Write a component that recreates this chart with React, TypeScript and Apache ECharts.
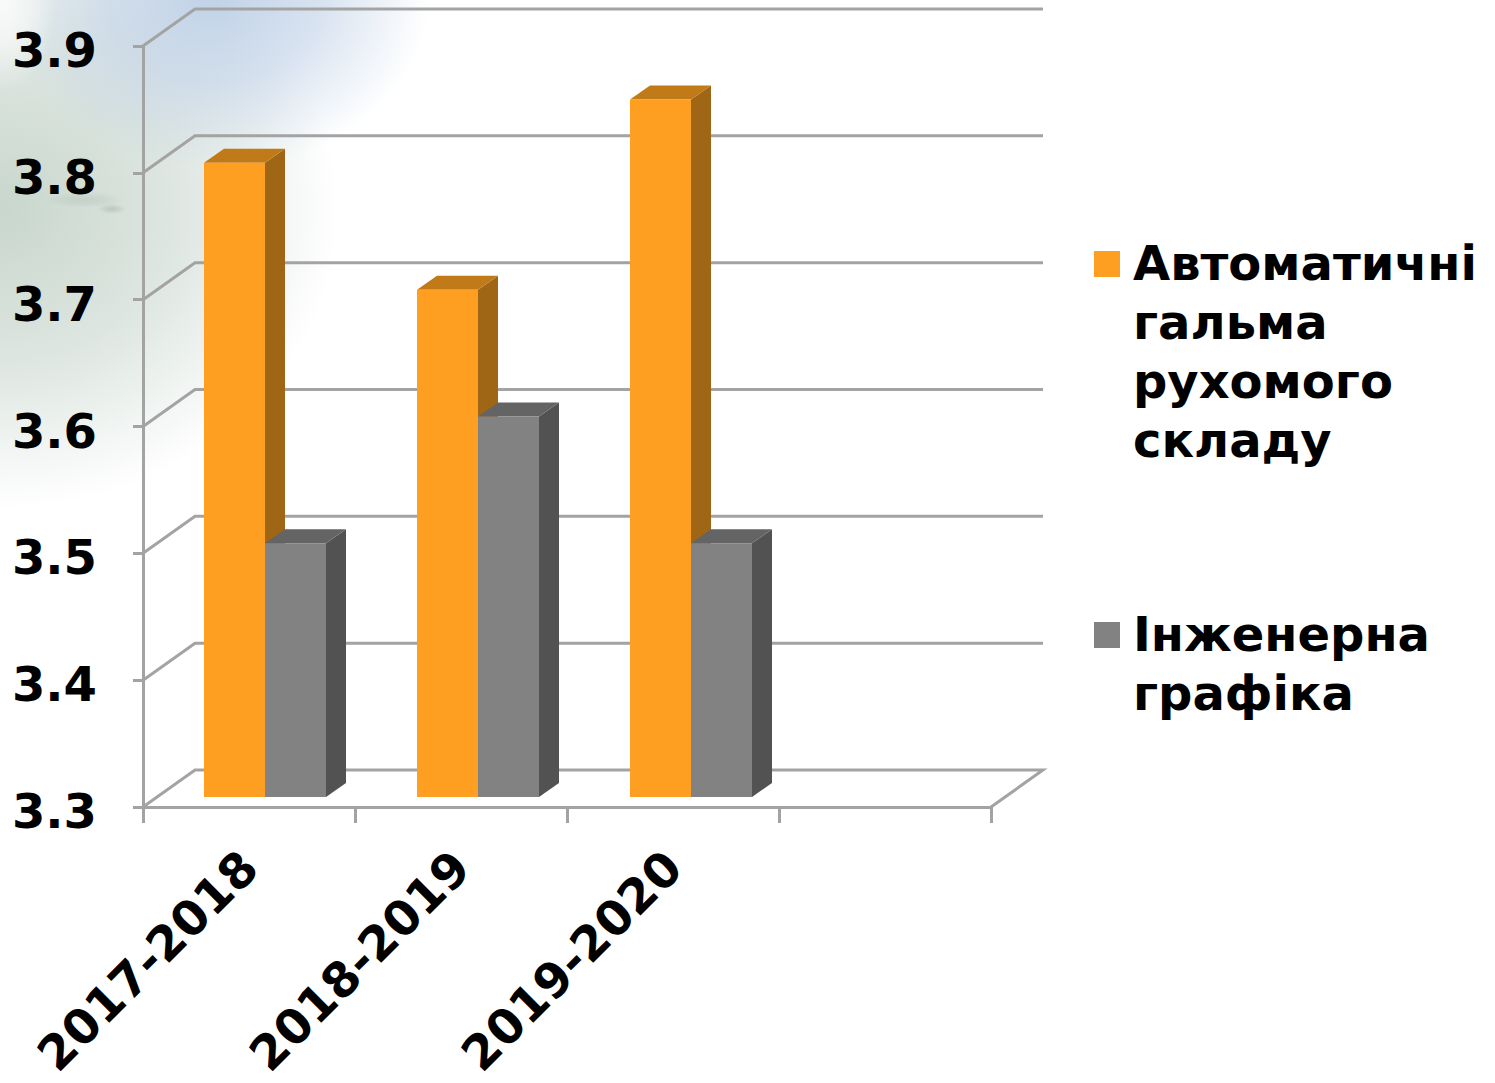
import React, { useEffect, useRef } from "react";
import * as echarts from "echarts";

const categories = ["2017-2018", "2018-2019", "2019-2020", ""];
const yTicks = [3.3, 3.4, 3.5, 3.6, 3.7, 3.8, 3.9];
const seriesNames = ["Автоматичні гальма рухомого складу", "Інженерна графіка"];
const brakesValues = [3.8, 3.7, 3.85];
const graphicsValues = [3.5, 3.6, 3.5];
const legendLinesBrakes = ["Автоматичні", "гальма", "рухомого", "складу"];
const legendLinesGraphics = ["Інженерна", "графіка"];

const FONT = '"DejaVu Sans", Verdana, sans-serif';
const AXIS = "#a3a3a3";
const ORANGE = { front: "#ff9f22", top: "#c07a17", side: "#9f6616" };
const GRAY = { front: "#828282", top: "#646464", side: "#525252" };

const WALL_DX = 52;
const WALL_DY = 37;
const BAR_W = 61;
const BAR_DX = 20;
const BAR_DY = 14;
const BAR_SHIFT_X = 16;
const BAR_SHIFT_Y = 10;

function bar3d(seriesIndex: number, c: { front: string; top: string; side: string }) {
  return (params: any, api: any) => {
    const i = api.value(0);
    const v = api.value(1);
    const [cx, yTop0] = api.coord([i, v]);
    const [, yBase0] = api.coord([i, yTicks[0]]);
    const x0 = cx + BAR_SHIFT_X + i - (seriesIndex === 0 ? BAR_W : 0);
    const x1 = x0 + BAR_W;
    const yt = yTop0 - BAR_SHIFT_Y;
    const yb = yBase0 - BAR_SHIFT_Y;
    const poly = (points: number[][], fill: string) => ({
      type: "polygon",
      shape: { points },
      style: { fill, stroke: null },
    });
    return {
      type: "group",
      children: [
        poly([[x1, yt], [x1 + BAR_DX, yt - BAR_DY], [x1 + BAR_DX, yb - BAR_DY], [x1, yb]], c.side),
        poly([[x0, yt], [x0 + BAR_DX, yt - BAR_DY], [x1 + BAR_DX, yt - BAR_DY], [x1, yt]], c.top),
        { type: "rect", shape: { x: x0, y: yt, width: BAR_W, height: yb - yt }, style: { fill: c.front } },
      ],
    };
  };
}

function wallLine(params: any, api: any) {
  const v = api.value(1);
  const cs = params.coordSys;
  const y = api.coord([0, v])[1];
  const x0 = cs.x;
  const x1 = cs.x + cs.width;
  const points = [[x0, y], [x0 + WALL_DX, y - WALL_DY], [x1 + WALL_DX, y - WALL_DY]];
  if (v === yTicks[0]) points.push([x1, y]);
  return {
    type: "polyline",
    shape: { points },
    style: { stroke: AXIS, lineWidth: 3, fill: null },
  };
}

function radial(color: string, alpha: number) {
  return {
    type: "radial",
    x: 0.5,
    y: 0.5,
    r: 0.5,
    colorStops: [
      { offset: 0, color: `rgba(${color},${alpha})` },
      { offset: 0.5, color: `rgba(${color},${alpha * 0.62})` },
      { offset: 1, color: `rgba(${color},0)` },
    ],
  };
}

function blob(cx: number, cy: number, rx: number, ry: number, color: string, alpha: number, z: number) {
  return {
    type: "ellipse",
    silent: true,
    z,
    shape: { cx, cy, rx, ry },
    style: { fill: radial(color, alpha) },
  };
}

export default function App() {
  const ref = useRef<HTMLDivElement>(null);
  useEffect(() => {
    const chart = echarts.init(ref.current!, undefined, { renderer: "svg" });
    const textStyle = { font: `bold 48px ${FONT}`, fill: "#000", lineHeight: 59 };
    chart.setOption({
      animation: false,
      backgroundColor: "#fff",
      graphic: {
        elements: [
          blob(0, 210, 340, 300, "200,214,205", 1, -20),
          blob(215, -5, 215, 175, "182,202,228", 0.85, -19),
          blob(5, 5, 50, 85, "248,249,248", 1, -18),
          blob(85, 200, 40, 8, "170,185,175", 0.35, -17),
          blob(112, 209, 14, 5, "150,165,158", 0.4, -16),
          {
            type: "text",
            z: 10,
            x: 1133,
            y: 233,
            style: { ...textStyle, text: legendLinesBrakes.join("\n") },
          },
          {
            type: "text",
            z: 10,
            x: 1133,
            y: 604,
            style: { ...textStyle, text: legendLinesGraphics.join("\n") },
          },
        ],
      },
      legend: {
        orient: "vertical",
        left: 1094,
        top: 251,
        itemWidth: 26,
        itemHeight: 26,
        itemGap: 345,
        padding: 0,
        icon: "rect",
        data: seriesNames,
        formatter: () => "",
        selectedMode: false,
      },
      grid: { left: 143, top: 46, width: 848, height: 761, containLabel: false, outerBoundsMode: "none" },
      xAxis: {
        type: "category",
        data: categories,
        boundaryGap: true,
        axisLine: { show: true, lineStyle: { color: AXIS, width: 3 } },
        axisTick: { show: true, length: 16, alignWithLabel: false, lineStyle: { color: AXIS, width: 3 } },
        axisLabel: {
          interval: 0,
          rotate: 45,
          margin: 52,
          color: "#000",
          fontFamily: FONT,
          fontWeight: "bold",
          fontSize: 48,
        },
      },
      yAxis: {
        type: "value",
        min: 3.3,
        max: 3.9,
        interval: 0.1,
        splitLine: { show: false },
        axisLine: { show: true, lineStyle: { color: AXIS, width: 3 } },
        axisTick: { show: true, length: 10, lineStyle: { color: AXIS, width: 3 } },
        axisLabel: {
          margin: 46,
          color: "#000",
          fontFamily: FONT,
          fontWeight: "bold",
          fontSize: 48,
          verticalAlign: "top",
          lineHeight: 8,
          formatter: (v: number) => v.toFixed(1),
        },
      },
      series: [
        {
          type: "custom",
          name: "walls",
          z: 1,
          silent: true,
          renderItem: wallLine,
          encode: { x: 0, y: 1 },
          data: yTicks.map((v) => [0, v]),
        },
        {
          type: "custom",
          name: seriesNames[0],
          z: 3,
          itemStyle: { color: ORANGE.front },
          renderItem: bar3d(0, ORANGE),
          encode: { x: 0, y: 1 },
          data: brakesValues.map((v, i) => [i, v]),
        },
        {
          type: "custom",
          name: seriesNames[1],
          z: 4,
          itemStyle: { color: GRAY.front },
          renderItem: bar3d(1, GRAY),
          encode: { x: 0, y: 1 },
          data: graphicsValues.map((v, i) => [i, v]),
        },
      ],
    });
    return () => chart.dispose();
  }, []);
  return <div ref={ref} style={{ position: "fixed", left: 0, top: 0, width: 1495, height: 1083 }} />;
}
